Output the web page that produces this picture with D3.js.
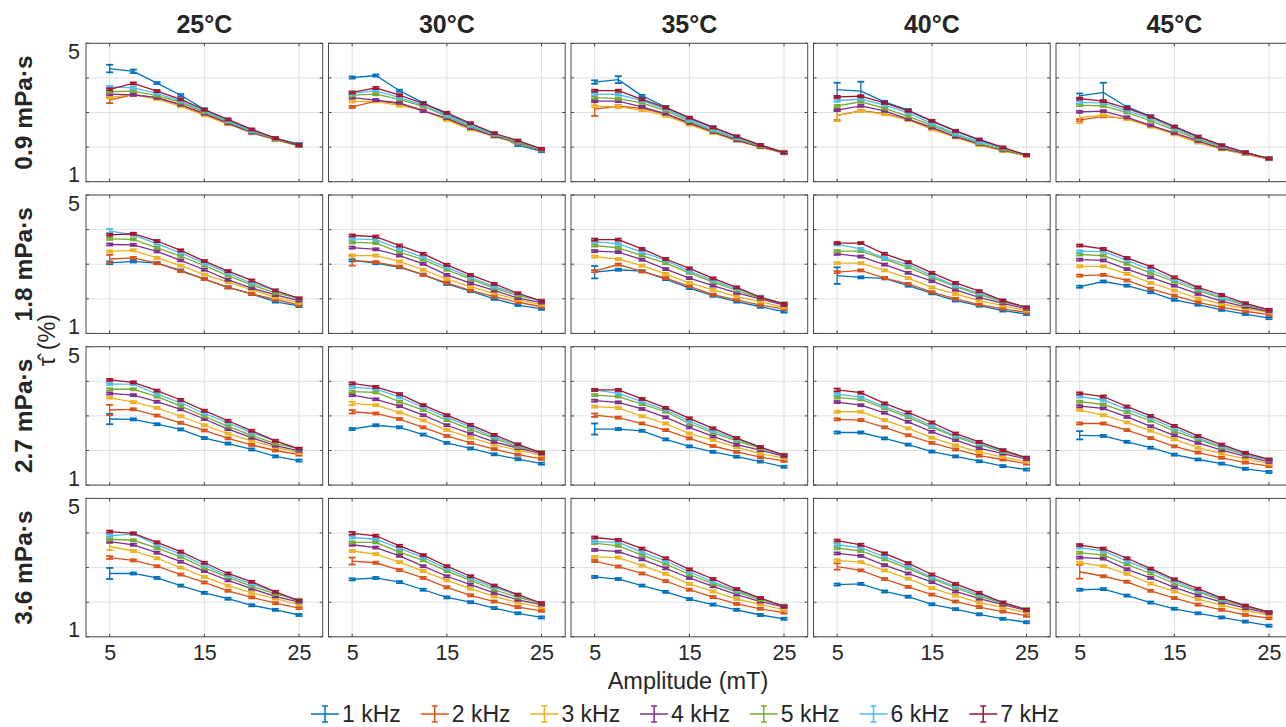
<!DOCTYPE html>
<html>
<head>
<meta charset="utf-8">
<script src="https://cdn.jsdelivr.net/npm/d3@7"></script>
<style>
  html, body { margin: 0; padding: 0; background: #fff; }
  svg { display: block; overflow: hidden; }
  text { font-family: "Liberation Sans", Arial, Helvetica, sans-serif; fill: #262626; }
</style>
</head>
<body>
<svg id="chart" width="1286" height="727"></svg>
<script>
// Field amplitudes (mT), temperatures, viscosities and drive frequencies
const amplitudes = [5, 7.5, 10, 12.5, 15, 17.5, 20, 22.5, 25];
const temperatures = ["25°C", "30°C", "35°C", "40°C", "45°C"];
const viscosities = ["0.9 mPa·s", "1.8 mPa·s", "2.7 mPa·s", "3.6 mPa·s"];
const frequencies = ["1 kHz", "2 kHz", "3 kHz", "4 kHz", "5 kHz", "6 kHz", "7 kHz"];
const xTicks = [5, 15, 25];
const yTickLabels = [1, 5];
const yGrid = [1, 2, 3, 4, 5];
const colors = ["#0072BD", "#D95319", "#EDB120", "#7E2F8E", "#77AC30", "#4DBEEE", "#A2142F"];

// tau-hat (%) per panel, rows = frequency 1..7 kHz, columns = amplitude
const tau_0_9_25 = [
  [4.27,4.19,3.85,3.50,3.09,2.78,2.49,2.25,2.09],
  [3.36,3.52,3.42,3.21,2.95,2.68,2.43,2.22,2.04],
  [3.44,3.52,3.39,3.18,2.92,2.66,2.41,2.21,2.03],
  [3.53,3.51,3.43,3.23,2.97,2.69,2.42,2.22,2.04],
  [3.60,3.62,3.49,3.29,3.01,2.73,2.45,2.23,2.05],
  [3.74,3.71,3.55,3.33,3.05,2.76,2.47,2.26,2.07],
  [3.67,3.84,3.62,3.38,3.08,2.80,2.51,2.26,2.06]];
const tau_0_9_30 = [
  [4.01,4.07,3.63,3.28,2.95,2.66,2.39,2.06,1.88],
  [3.16,3.33,3.26,3.07,2.80,2.54,2.32,2.12,1.91],
  [3.32,3.32,3.20,3.07,2.78,2.51,2.30,2.11,1.91],
  [3.43,3.36,3.28,3.04,2.84,2.55,2.32,2.13,1.92],
  [3.50,3.53,3.38,3.18,2.88,2.60,2.35,2.14,1.93],
  [3.55,3.63,3.43,3.21,2.92,2.63,2.37,2.17,1.94],
  [3.58,3.71,3.50,3.26,2.99,2.69,2.40,2.19,1.95]];
const tau_0_9_35 = [
  [3.88,3.95,3.48,3.16,2.83,2.57,2.30,2.06,1.84],
  [3.10,3.18,3.12,2.95,2.68,2.43,2.20,2.01,1.82],
  [3.18,3.16,3.07,2.91,2.65,2.41,2.18,1.99,1.84],
  [3.33,3.33,3.16,2.97,2.70,2.44,2.20,2.01,1.84],
  [3.43,3.40,3.28,3.05,2.75,2.47,2.24,2.03,1.87],
  [3.53,3.52,3.34,3.10,2.78,2.51,2.27,2.06,1.84],
  [3.63,3.63,3.38,3.14,2.85,2.57,2.31,2.06,1.84]];
const tau_0_9_40 = [
  [3.66,3.62,3.31,3.07,2.75,2.46,2.20,1.97,1.77],
  [2.92,3.05,2.97,2.80,2.53,2.30,2.08,1.90,1.75],
  [2.92,3.04,2.95,2.78,2.51,2.28,2.06,1.89,1.75],
  [3.07,3.19,3.05,2.81,2.57,2.30,2.09,1.91,1.77],
  [3.19,3.31,3.12,2.89,2.63,2.36,2.11,1.93,1.77],
  [3.34,3.39,3.21,2.99,2.68,2.39,2.15,1.98,1.77],
  [3.45,3.47,3.28,3.05,2.76,2.47,2.22,1.99,1.77]];
const tau_0_9_45 = [
  [3.48,3.58,3.16,2.89,2.59,2.30,2.05,1.84,1.67],
  [2.78,2.89,2.82,2.61,2.38,2.14,1.94,1.80,1.65],
  [2.86,2.92,2.81,2.59,2.37,2.14,1.94,1.80,1.66],
  [3.02,3.04,2.86,2.63,2.41,2.18,1.96,1.82,1.67],
  [3.21,3.19,3.00,2.76,2.49,2.23,2.01,1.84,1.67],
  [3.29,3.28,3.05,2.83,2.54,2.27,2.03,1.85,1.67],
  [3.40,3.33,3.12,2.88,2.59,2.30,2.05,1.85,1.67]];

const tau_1_8_25 = [
  [3.04,3.08,3.03,2.82,2.57,2.33,2.14,1.92,1.79],
  [3.15,3.18,3.03,2.80,2.57,2.33,2.14,1.98,1.82],
  [3.37,3.40,3.18,2.96,2.70,2.48,2.26,2.04,1.88],
  [3.57,3.56,3.37,3.11,2.84,2.55,2.31,2.11,1.95],
  [3.73,3.72,3.47,3.23,2.96,2.67,2.40,2.17,2.01],
  [3.96,3.85,3.59,3.33,3.03,2.74,2.45,2.24,2.00],
  [3.85,3.88,3.67,3.40,3.09,2.80,2.53,2.24,2.01]];
const tau_1_8_30 = [
  [3.11,3.03,2.91,2.70,2.43,2.22,2.00,1.82,1.71],
  [3.11,3.06,2.93,2.69,2.46,2.24,2.06,1.90,1.77],
  [3.25,3.25,3.08,2.84,2.57,2.35,2.16,1.97,1.83],
  [3.48,3.43,3.25,3.01,2.69,2.45,2.24,2.02,1.89],
  [3.63,3.61,3.35,3.13,2.84,2.57,2.31,2.09,1.95],
  [3.73,3.71,3.44,3.20,2.91,2.62,2.35,2.14,1.93],
  [3.83,3.80,3.54,3.30,2.98,2.69,2.43,2.16,1.93]];
const tau_1_8_35 = [
  [2.77,2.84,2.80,2.57,2.31,2.09,1.92,1.77,1.63],
  [2.80,2.99,2.79,2.60,2.36,2.12,1.97,1.82,1.71],
  [3.22,3.15,2.96,2.72,2.46,2.26,2.06,1.92,1.75],
  [3.38,3.35,3.13,2.86,2.60,2.38,2.17,2.00,1.82],
  [3.54,3.47,3.25,3.03,2.75,2.48,2.24,2.02,1.87],
  [3.65,3.59,3.35,3.11,2.80,2.53,2.29,2.06,1.85],
  [3.71,3.71,3.44,3.15,2.88,2.59,2.33,2.04,1.85]];
const tau_1_8_40 = [
  [2.67,2.62,2.59,2.38,2.16,1.95,1.80,1.66,1.56],
  [2.77,2.82,2.60,2.43,2.19,2.00,1.83,1.71,1.61],
  [3.03,3.03,2.82,2.60,2.33,2.14,1.95,1.80,1.66],
  [3.30,3.22,2.99,2.75,2.51,2.26,2.04,1.87,1.71],
  [3.38,3.38,3.15,2.91,2.62,2.35,2.12,1.92,1.75],
  [3.57,3.44,3.18,2.99,2.67,2.38,2.16,1.95,1.75],
  [3.61,3.61,3.30,3.06,2.75,2.46,2.22,1.95,1.75]];
const tau_1_8_45 = [
  [2.35,2.50,2.38,2.19,1.97,1.83,1.68,1.56,1.44],
  [2.67,2.69,2.53,2.29,2.09,1.90,1.75,1.64,1.54],
  [2.94,2.94,2.72,2.46,2.24,2.01,1.85,1.72,1.61],
  [3.13,3.11,2.86,2.62,2.38,2.14,1.93,1.77,1.64],
  [3.28,3.25,3.01,2.75,2.50,2.24,2.01,1.82,1.68],
  [3.37,3.37,3.11,2.84,2.55,2.29,2.04,1.85,1.68],
  [3.54,3.44,3.18,2.93,2.62,2.33,2.11,1.87,1.68]];

const tau_2_7_25 = [
  [2.91,2.90,2.76,2.61,2.36,2.20,2.03,1.83,1.71],
  [3.17,3.19,3.01,2.80,2.58,2.35,2.16,2.00,1.88],
  [3.53,3.40,3.23,2.99,2.73,2.49,2.28,2.10,1.93],
  [3.65,3.60,3.41,3.19,2.91,2.62,2.37,2.14,1.99],
  [3.77,3.77,3.56,3.28,2.99,2.70,2.44,2.20,2.05],
  [3.92,3.92,3.63,3.38,3.07,2.80,2.51,2.28,2.03],
  [4.04,3.97,3.73,3.46,3.15,2.86,2.57,2.28,2.05]];
const tau_2_7_30 = [
  [2.62,2.73,2.67,2.46,2.22,2.06,1.89,1.75,1.62],
  [3.12,3.07,2.91,2.67,2.42,2.22,2.04,1.88,1.76],
  [3.36,3.31,3.10,2.87,2.59,2.37,2.17,2.01,1.86],
  [3.60,3.48,3.28,3.02,2.73,2.49,2.25,2.07,1.91],
  [3.70,3.68,3.41,3.17,2.88,2.61,2.35,2.10,1.96],
  [3.83,3.78,3.54,3.25,2.96,2.68,2.39,2.15,1.93],
  [3.94,3.84,3.63,3.31,3.02,2.74,2.45,2.18,1.93]];
const tau_2_7_35 = [
  [2.62,2.62,2.57,2.32,2.12,1.96,1.82,1.68,1.53],
  [3.02,2.95,2.78,2.59,2.35,2.13,1.96,1.81,1.70],
  [3.27,3.23,2.99,2.78,2.49,2.30,2.10,1.91,1.78],
  [3.44,3.39,3.20,2.96,2.67,2.41,2.17,2.01,1.83],
  [3.60,3.56,3.34,3.12,2.78,2.51,2.28,2.06,1.88],
  [3.75,3.65,3.41,3.17,2.85,2.57,2.32,2.10,1.86],
  [3.75,3.75,3.49,3.23,2.93,2.64,2.36,2.10,1.86]];
const tau_2_7_40 = [
  [2.52,2.52,2.35,2.17,1.97,1.83,1.69,1.55,1.45],
  [2.90,2.88,2.67,2.44,2.22,2.03,1.85,1.74,1.62],
  [3.12,3.12,2.88,2.64,2.37,2.15,1.96,1.81,1.68],
  [3.40,3.31,3.09,2.83,2.54,2.30,2.07,1.91,1.75],
  [3.53,3.48,3.22,2.96,2.67,2.39,2.17,1.96,1.79],
  [3.63,3.54,3.27,3.02,2.71,2.42,2.20,1.99,1.79],
  [3.75,3.67,3.36,3.10,2.81,2.49,2.25,2.01,1.79]];
const tau_2_7_45 = [
  [2.44,2.42,2.25,2.08,1.88,1.74,1.62,1.47,1.38],
  [2.78,2.78,2.59,2.36,2.12,1.94,1.79,1.65,1.55],
  [3.17,3.02,2.81,2.57,2.32,2.08,1.91,1.76,1.62],
  [3.28,3.22,2.97,2.70,2.44,2.22,2.01,1.83,1.67],
  [3.41,3.33,3.10,2.86,2.56,2.32,2.08,1.88,1.72],
  [3.56,3.46,3.19,2.93,2.64,2.36,2.12,1.91,1.72],
  [3.65,3.56,3.27,3.00,2.71,2.42,2.17,1.93,1.74]];

const tau_3_6_25 = [
  [2.83,2.83,2.70,2.48,2.27,2.10,1.91,1.78,1.63],
  [3.29,3.21,3.04,2.80,2.57,2.33,2.14,1.97,1.83],
  [3.61,3.48,3.27,3.00,2.73,2.48,2.27,2.10,1.93],
  [3.75,3.66,3.43,3.17,2.90,2.63,2.39,2.17,2.00],
  [3.82,3.79,3.56,3.31,2.99,2.72,2.46,2.24,2.07],
  [3.92,3.97,3.66,3.39,3.07,2.77,2.53,2.30,2.02],
  [4.04,3.99,3.73,3.46,3.14,2.83,2.59,2.30,2.04]];
const tau_3_6_30 = [
  [2.66,2.70,2.58,2.36,2.14,2.00,1.83,1.68,1.56],
  [3.19,3.14,2.93,2.70,2.43,2.20,2.02,1.86,1.75],
  [3.48,3.39,3.16,2.90,2.63,2.39,2.17,1.99,1.85],
  [3.66,3.58,3.34,3.04,2.75,2.51,2.27,2.07,1.93],
  [3.73,3.73,3.45,3.21,2.90,2.63,2.36,2.14,1.97],
  [3.87,3.82,3.56,3.29,2.97,2.68,2.43,2.20,1.97],
  [3.99,3.92,3.63,3.36,3.04,2.75,2.48,2.22,1.97]];
const tau_3_6_35 = [
  [2.73,2.67,2.48,2.30,2.09,1.93,1.78,1.63,1.52],
  [3.19,3.03,2.83,2.61,2.36,2.15,1.95,1.81,1.70],
  [3.31,3.29,3.06,2.82,2.53,2.31,2.09,1.94,1.78],
  [3.51,3.46,3.24,2.98,2.70,2.46,2.22,2.02,1.86],
  [3.71,3.63,3.36,3.11,2.80,2.53,2.30,2.07,1.90],
  [3.75,3.73,3.45,3.19,2.88,2.59,2.33,2.12,1.88],
  [3.87,3.80,3.55,3.27,2.95,2.67,2.38,2.12,1.88]];
const tau_3_6_40 = [
  [2.51,2.53,2.31,2.16,1.94,1.80,1.65,1.52,1.42],
  [3.03,2.92,2.67,2.44,2.22,2.02,1.86,1.73,1.61],
  [3.21,3.16,2.92,2.68,2.41,2.19,1.99,1.85,1.70],
  [3.41,3.34,3.07,2.83,2.58,2.31,2.10,1.93,1.76],
  [3.56,3.48,3.24,2.98,2.68,2.41,2.17,1.97,1.80],
  [3.66,3.58,3.31,3.04,2.72,2.46,2.22,1.99,1.78],
  [3.78,3.66,3.41,3.13,2.80,2.53,2.27,1.99,1.78]];
const tau_3_6_45 = [
  [2.36,2.38,2.19,1.99,1.81,1.68,1.56,1.44,1.32],
  [2.88,2.75,2.59,2.33,2.12,1.93,1.78,1.63,1.54],
  [3.14,3.04,2.82,2.54,2.31,2.09,1.91,1.76,1.63],
  [3.29,3.26,2.95,2.70,2.43,2.20,2.00,1.83,1.68],
  [3.43,3.36,3.09,2.83,2.54,2.30,2.05,1.88,1.71],
  [3.58,3.48,3.19,2.92,2.61,2.33,2.09,1.90,1.71],
  [3.65,3.55,3.27,2.97,2.66,2.39,2.12,1.90,1.71]];

// Standard deviation: small everywhere except the listed points
const defaultError = 0.03;
// [viscosity row, temperature column, frequency index, amplitude index, error]
const largeErrors = [
  [0,0,0,0,0.11],[0,0,0,1,0.05],[0,0,1,0,0.09],
  [0,2,0,0,0.05],[0,2,0,1,0.10],[0,2,1,0,0.20],
  [0,3,0,0,0.20],[0,3,0,1,0.27],[0,3,2,0,0.17],[0,3,1,0,0.14],
  [0,4,0,0,0.07],[0,4,0,1,0.28],[0,4,2,0,0.17],
  [1,0,0,0,0.04],[1,0,5,0,0.06],[1,0,1,0,0.12],
  [1,1,1,0,0.15],
  [1,2,0,0,0.18],
  [1,3,0,0,0.24],
  [2,0,0,0,0.15],[2,0,1,0,0.15],
  [2,1,1,0,0.05],[2,1,2,0,0.05],
  [2,2,0,0,0.16],[2,2,1,0,0.05],
  [2,3,6,0,0.04],
  [2,4,0,0,0.12],
  [3,0,0,0,0.16],[3,0,1,0,0.04],[3,0,2,0,0.10],
  [3,1,6,0,0.04],[3,1,1,0,0.10],
  [3,3,1,0,0.09],
  [3,4,1,0,0.20]
];

const panels = [
  [tau_0_9_25, tau_0_9_30, tau_0_9_35, tau_0_9_40, tau_0_9_45],
  [tau_1_8_25, tau_1_8_30, tau_1_8_35, tau_1_8_40, tau_1_8_45],
  [tau_2_7_25, tau_2_7_30, tau_2_7_35, tau_2_7_40, tau_2_7_45],
  [tau_3_6_25, tau_3_6_30, tau_3_6_35, tau_3_6_40, tau_3_6_45]
];

// ---- layout ----
const left0 = 86, colStep = 242.5, pw = 236.7;
const top0 = 43.3, rowStep = 151.7, ph = 138.4;
const axisColor = "#4a4a4a", gridColor = "#dfe0e5";
const tickLen = 3, capW = 7;
const tickFont = "21.5px", labelFont = "23.5px", titleFont = "25px", legendFont = "23px";

const svg = d3.select("#chart");
const x = d3.scaleLinear().domain([2.5, 27.5]).range([0, pw]);
const y = d3.scaleLinear().domain([1, 5]).range([ph, 0]);

const errLookup = new Map(largeErrors.map(d => [d.slice(0, 4).join(","), d[4]]));

panels.forEach((rowPanels, r) => {
  rowPanels.forEach((data, c) => {
    const g = svg.append("g")
      .attr("transform", `translate(${left0 + c * colStep},${top0 + r * rowStep})`);

    // grid
    g.append("g").selectAll("line").data(xTicks).join("line")
      .attr("x1", d => x(d)).attr("x2", d => x(d))
      .attr("y1", 0).attr("y2", ph)
      .attr("stroke", gridColor).attr("stroke-width", 1);
    g.append("g").selectAll("line").data(yGrid).join("line")
      .attr("x1", 0).attr("x2", pw)
      .attr("y1", d => y(d)).attr("y2", d => y(d))
      .attr("stroke", gridColor).attr("stroke-width", 1);

    // series with error bars
    const line = d3.line().x((d, i) => x(amplitudes[i])).y(d => y(d));
    data.forEach((vals, s) => {
      const sg = g.append("g");
      sg.append("path").datum(vals)
        .attr("d", line).attr("fill", "none")
        .attr("stroke", colors[s]).attr("stroke-width", 1.3);
      const pts = vals.map((v, i) => ({
        v, xa: amplitudes[i],
        e: errLookup.get([r, c, s, i].join(",")) ?? defaultError
      }));
      sg.selectAll("line.bar").data(pts).join("line").attr("class", "bar")
        .attr("x1", d => x(d.xa)).attr("x2", d => x(d.xa))
        .attr("y1", d => y(d.v - d.e)).attr("y2", d => y(d.v + d.e))
        .attr("stroke", colors[s]).attr("stroke-width", 1.3);
      ["lo", "hi"].forEach(k => {
        sg.selectAll("line.cap" + k).data(pts).join("line").attr("class", "cap" + k)
          .attr("x1", d => x(d.xa) - capW / 2).attr("x2", d => x(d.xa) + capW / 2)
          .attr("y1", d => y(k === "lo" ? d.v - d.e : d.v + d.e))
          .attr("y2", d => y(k === "lo" ? d.v - d.e : d.v + d.e))
          .attr("stroke", colors[s]).attr("stroke-width", 1.8);
      });
    });

    // inward ticks
    const tk = g.append("g").attr("stroke", axisColor).attr("stroke-width", 1);
    xTicks.forEach(t => {
      tk.append("line").attr("x1", x(t)).attr("x2", x(t)).attr("y1", ph).attr("y2", ph - tickLen);
      tk.append("line").attr("x1", x(t)).attr("x2", x(t)).attr("y1", 0).attr("y2", tickLen);
    });
    yGrid.forEach(t => {
      tk.append("line").attr("x1", 0).attr("x2", tickLen).attr("y1", y(t)).attr("y2", y(t));
      tk.append("line").attr("x1", pw).attr("x2", pw - tickLen).attr("y1", y(t)).attr("y2", y(t));
    });

    // box
    g.append("rect").attr("x", 0).attr("y", 0).attr("width", pw).attr("height", ph)
      .attr("fill", "none").attr("stroke", axisColor).attr("stroke-width", 1);

    // x tick labels on bottom row
    if (r === panels.length - 1) {
      const ax = g.append("g").attr("transform", `translate(0,${ph})`)
        .call(d3.axisBottom(x).tickValues(xTicks).tickSize(0).tickPadding(8).tickFormat(d3.format("d")));
      ax.select(".domain").remove();
      ax.selectAll("text").attr("font-size", tickFont).attr("fill", "#262626")
        .style("font-family", '"Liberation Sans", Arial, sans-serif');
    }
    // y tick labels on left column
    if (c === 0) {
      const ay = g.append("g")
        .call(d3.axisLeft(y).tickValues(yTickLabels).tickSize(0).tickPadding(6).tickFormat(d3.format("d")));
      ay.select(".domain").remove();
      ay.selectAll("text").attr("font-size", tickFont).attr("fill", "#262626")
        .style("font-family", '"Liberation Sans", Arial, sans-serif')
        .attr("dy", d => d === 5 ? "0.72em" : "0em");
    }
    // column titles
    if (r === 0) {
      svg.append("text")
        .attr("x", left0 + c * colStep + pw / 2).attr("y", 33)
        .attr("text-anchor", "middle").attr("font-size", titleFont).attr("font-weight", "bold")
        .text(temperatures[c]);
    }
  });
  // row labels
  svg.append("text")
    .attr("transform", `translate(32,${top0 + r * rowStep + ph / 2}) rotate(-90)`)
    .attr("text-anchor", "middle").attr("font-size", "24.5px").attr("font-weight", "bold")
    .text(viscosities[r]);
});

// axis titles
svg.append("text")
  .attr("transform", "translate(55,340) rotate(-90)")
  .attr("text-anchor", "middle").attr("font-size", labelFont)
  .text("τ\u0302 (%)");
svg.append("text")
  .attr("x", 688).attr("y", 689)
  .attr("text-anchor", "middle").attr("font-size", labelFont)
  .text("Amplitude (mT)");

// legend
const legend = svg.append("g");
frequencies.forEach((f, i) => {
  const lx = 311 + i * 109.7, ly = 714;
  const lg = legend.append("g").attr("transform", `translate(${lx},${ly})`);
  lg.append("line").attr("x1", 0).attr("x2", 28).attr("y1", 0).attr("y2", 0)
    .attr("stroke", colors[i]).attr("stroke-width", 1.5);
  lg.append("line").attr("x1", 14).attr("x2", 14).attr("y1", -8).attr("y2", 8)
    .attr("stroke", colors[i]).attr("stroke-width", 1.5);
  [-8, 8].forEach(cy => lg.append("line").attr("x1", 11).attr("x2", 17).attr("y1", cy).attr("y2", cy)
    .attr("stroke", colors[i]).attr("stroke-width", 1.5));
  lg.append("text").attr("x", 31).attr("y", 8).attr("font-size", legendFont).text(f);
});
</script>
</body>
</html>
